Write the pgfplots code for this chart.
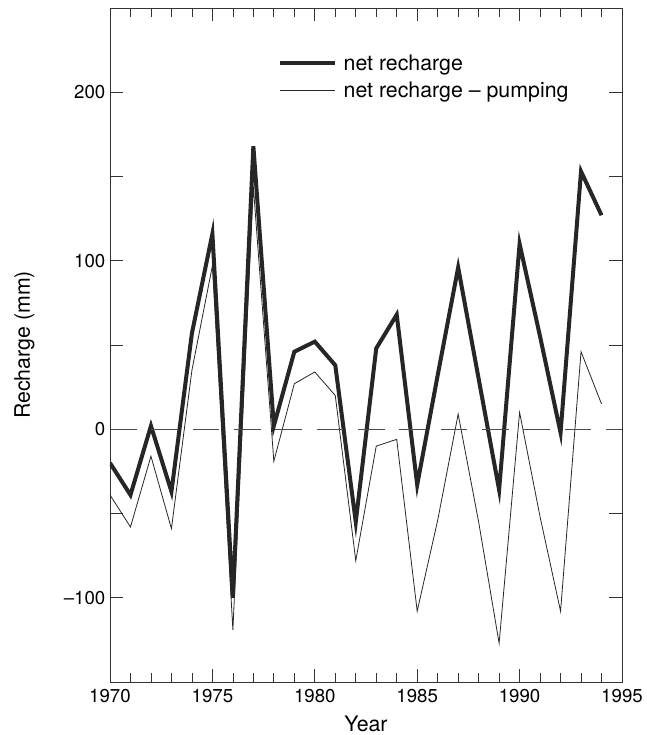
\documentclass[border=0pt]{standalone}
\usepackage{pgfplots}
\pgfplotsset{compat=1.18}
\usetikzlibrary{calc}
\usepackage{fontspec}
\setmainfont{TeX Gyre Heros}
\begin{document}
\begin{tikzpicture}
\begin{axis}[
  name=main,
  scale only axis,
  width=384pt, height=505.5pt,
  xmin=1970, xmax=1995, ymin=-150, ymax=250,
  xtick={1970,1975,...,1995},
  minor xtick={1971,...,1994},
  ytick={-100,-50,...,200},
  yticklabels={\textendash100,,0,,100,,200},
  tick align=inside,
  major tick length=10pt,
  minor tick length=6.5pt,
  tick style={line width=0.5pt, color=black!80},
  axis line style={line width=0.6pt, color=black!80},
  x tick label style={/pgf/number format/1000 sep={}, yshift=-2pt},
  /pgf/number format/assume math mode=true,
  tick label style={font=\fontsize{14}{16}\selectfont},
  label style={font=\fontsize{16}{18}\selectfont},
  xlabel={Year},
  ylabel={Recharge (mm)},
  xlabel style={yshift=-3pt},
  ylabel style={yshift=15pt},
  legend style={draw=none, fill=none, at={(rel axis cs:0.325,0.937)}, anchor=north west,
    font=\fontsize{16}{18}\selectfont, row sep=3pt, inner sep=1pt, column sep=3pt},
  legend cell align=left,
  legend image code/.code={\draw[#1] (0cm,0cm) -- (1.45cm,0cm);},
]
\addplot[black!85, line width=3pt, line join=miter] coordinates {
(1970,-20) (1971,-39) (1972,2) (1973,-37) (1974,57) (1975,116)
(1976,-100) (1977,168) (1978,2) (1979,46) (1980,52) (1981,38)
(1982,-55) (1983,48) (1984,68) (1985,-33) (1986,32) (1987,96)
(1988,30) (1989,-36) (1990,110) (1991,55) (1992,-2) (1993,153) (1994,127)};
\addlegendentry{net recharge}
\addplot[black!85, line width=0.6pt, line join=miter] coordinates {
(1970,-39) (1971,-58) (1972,-16) (1973,-59) (1974,35) (1975,97)
(1976,-119) (1977,144) (1978,-19) (1979,27) (1980,34) (1981,20)
(1982,-78) (1983,-10) (1984,-6) (1985,-108) (1986,-54) (1987,9)
(1988,-55) (1989,-127) (1990,10) (1991,-52) (1992,-108) (1993,46) (1994,15)};
\addlegendentry{net recharge -- pumping}
\addplot[black!70, line width=0.6pt, dash pattern=on 20pt off 11pt, forget plot] coordinates {(1970,0) (1995,0)};
\end{axis}
\pgfresetboundingbox
\path ($(main.south west)+(-82.5pt,-39.75pt)$) rectangle ($(main.north east)+(18pt,6pt)$);
\end{tikzpicture}
\end{document}
